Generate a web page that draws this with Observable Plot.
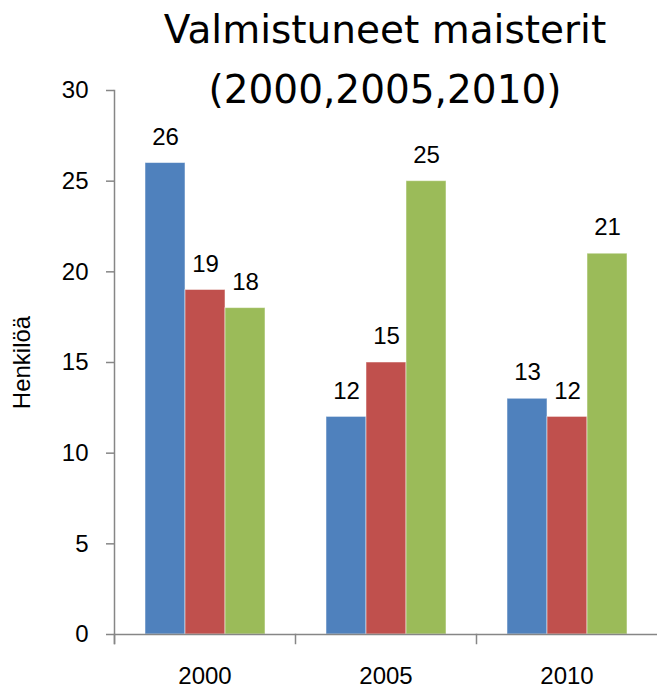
<!DOCTYPE html>
<html><head><meta charset="utf-8">
<script src="https://cdn.jsdelivr.net/npm/d3@7"></script>
<script src="https://cdn.jsdelivr.net/npm/@observablehq/plot@0.6"></script>
<style>
body{margin:0;background:#fff}
#wrap{position:relative;width:657px;height:687px}
#title{position:absolute;left:113px;width:544px;top:0;text-align:center;font-family:"DejaVu Sans";font-size:39px;line-height:60px;color:#000;z-index:2}
</style>
</head><body>
<div id="wrap"><div id="title">Valmistuneet maisterit<br>(2000,2005,2010)</div></div>
<script>
const years = ["2000", "2005", "2010"];
const seriesNames = ["Sarja1", "Sarja2", "Sarja3"];
const seriesA = [26, 12, 13];
const seriesB = [19, 15, 12];
const seriesC = [18, 25, 21];
const yTicks = [0, 5, 10, 15, 20, 25, 30];
const colors = ["#4F81BD", "#C0504D", "#9BBB59"];
const yLabel = "Henkilöä";

const allSeries = [seriesA, seriesB, seriesC];
const data = years.flatMap((yr, i) => allSeries.map((s, j) => ({year: yr, series: seriesNames[j], value: s[i]})));

const axisColor = "#868686";
const chart = Plot.plot({
  width: 657, height: 687,
  marginLeft: 113, marginRight: 0, marginTop: 90, marginBottom: 53,
  style: {fontFamily: "Liberation Sans", fontSize: "24px", background: "white", overflow: "visible", color: "#000"},
  fx: {domain: years, padding: 0, label: null},
  x: {domain: seriesNames, paddingInner: 0, paddingOuter: 0.745, axis: null},
  y: {domain: [0, 30], label: null},
  color: {domain: seriesNames, range: colors},
  marks: [
    Plot.barY(data, {fx: "year", x: "series", y: "value", fill: "series", stroke: "white", strokeOpacity: 0.5, strokeWidth: 1}),
    Plot.text(data, {fx: "year", x: "series", y: "value", text: d => String(d.value), dy: -26, fill: "#000", fontSize: 24}),
    Plot.ruleY([0], {stroke: axisColor, strokeWidth: 1.5}),
    Plot.frame({anchor: "left", fx: "2000", stroke: axisColor, strokeWidth: 1.5, insetBottom: -9}),
    Plot.frame({anchor: "left", stroke: axisColor, strokeWidth: 1.5, insetTop: 544, insetBottom: -9}),
    Plot.axisY({ticks: yTicks, tickSize: 8, tickPadding: 18, stroke: axisColor, strokeWidth: 1.5, fill: "#000", fontSize: 24,
      label: yLabel, labelAnchor: "center", labelOffset: 102, labelArrow: "none"}),
    Plot.axisFx({anchor: "bottom", tickSize: 0, tickPadding: 32, fill: "#000", fontSize: 24, label: null})
  ]
});
document.getElementById("wrap").appendChild(chart);
chart.style.position = "absolute";
chart.style.left = "0";
chart.style.top = "0";
</script>
</body></html>
